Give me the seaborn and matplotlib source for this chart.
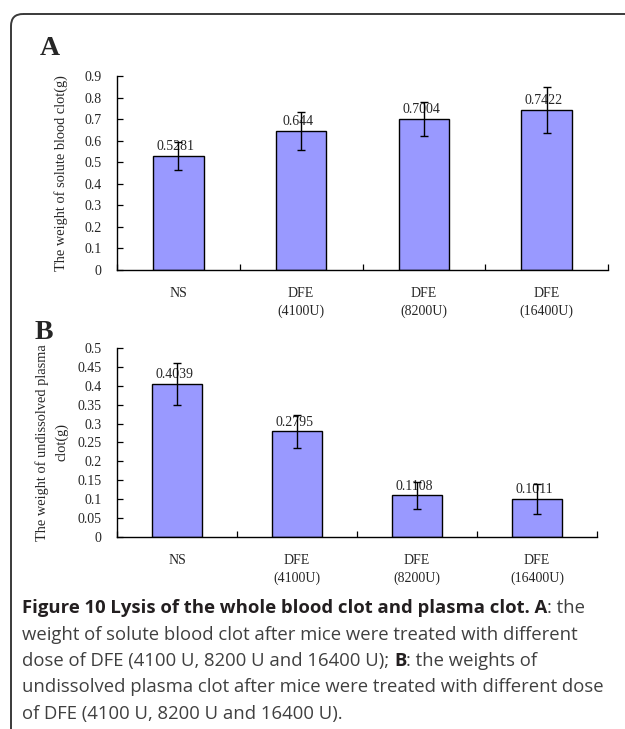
import matplotlib
matplotlib.use('Agg')
import matplotlib.pyplot as plt
import seaborn as sns
import pandas as pd
from matplotlib.patches import FancyBboxPatch

# data
groups = ['NS', 'DFE\n(4100U)', 'DFE\n(8200U)', 'DFE\n(16400U)']
solute_clot = [0.5281, 0.644, 0.7004, 0.7422]
solute_sd = [0.065, 0.087, 0.079, 0.108]
plasma_clot = [0.4039, 0.2795, 0.1108, 0.1011]
plasma_sd = [0.056, 0.044, 0.036, 0.040]
yticks_a = [0, 0.1, 0.2, 0.3, 0.4, 0.5, 0.6, 0.7, 0.8, 0.9]
yticks_b = [0, 0.05, 0.1, 0.15, 0.2, 0.25, 0.3, 0.35, 0.4, 0.45, 0.5]

sns.set_style('white')
plt.rcParams['font.family'] = ['Liberation Serif', 'DejaVu Serif']

W, H = 625, 729
fig = plt.figure(figsize=(W / 100, H / 100), dpi=100)

# background axes in pixel coordinates for frame / caption
bg = fig.add_axes([0, 0, 1, 1])
bg.set_xlim(0, W)
bg.set_ylim(H, 0)
bg.axis('off')
bg.add_patch(FancyBboxPatch((11, 14), 700, 760, boxstyle='round,pad=0,rounding_size=12',
                            fc='none', ec='#3a3a3a', lw=1.4))

bar_color = '#9999FF'


def draw_panel(rect, values, errs, ticks, ylabel, label_x):
    ax = fig.add_axes(rect)
    df = pd.DataFrame({'group': groups, 'value': values})
    sns.barplot(data=df, x='group', y='value', color=bar_color, saturation=1,
                width=0.41, edgecolor='black', linewidth=1.0, ax=ax, zorder=2)
    ax.errorbar(range(len(values)), values, yerr=errs, fmt='none', ecolor='black',
                elinewidth=1.0, capsize=3, capthick=1.0, zorder=4)
    for i, v in enumerate(values):
        ax.annotate(f'{v:g}', (i, v), xytext=(-2, 2), textcoords='offset points',
                    ha='center', va='bottom', fontsize=10, zorder=3)
    ax.set_xlim(-0.5, len(values) - 0.5)
    ax.set_ylim(ticks[0], ticks[-1])
    ax.set_yticks(ticks)
    ax.set_yticklabels([f'{t:g}' for t in ticks])
    ax.set_xticks(range(len(values)))
    ax.set_xticklabels(groups, linespacing=1.45)
    ax.set_xticks([i - 0.5 for i in range(len(values) + 1)], minor=True)
    ax.tick_params(axis='x', which='major', length=0, pad=12, labelsize=10)
    ax.tick_params(axis='x', which='minor', direction='in', length=4, width=0.9,
                   bottom=True, color='black')
    ax.tick_params(axis='y', direction='in', length=4, width=0.9, left=True,
                   pad=11, labelsize=10, color='black')
    ax.set_xlabel('')
    ax.set_ylabel(ylabel, fontsize=10.4, multialignment='center', linespacing=1.5)
    ax.yaxis.set_label_coords(label_x, 0.5)
    sns.despine(ax=ax)
    for s in ['left', 'bottom']:
        ax.spines[s].set_color('black')
        ax.spines[s].set_linewidth(1.0)
    return ax


draw_panel([117 / W, 1 - 270 / H, 491 / W, 194 / H], solute_clot, solute_sd, yticks_a,
           'The weight of solute blood clot(g)', -0.100)
draw_panel([117 / W, 1 - 537.3 / H, 480 / W, 189.6 / H], plasma_clot, plasma_sd, yticks_b,
           'The weight of undissolved plasma\nclot(g)', -0.102)

bg.text(40, 55, 'A', fontsize=20, fontweight='bold', ha='left', va='baseline')
bg.text(35, 339, 'B', fontsize=20, fontweight='bold', ha='left', va='baseline')

# caption, pieces with mixed weights
cap_font = ['Open Sans', 'DejaVu Sans']
cap_size = 13.3
lines = [
    [('Figure 10 Lysis of the whole blood clot and plasma clot. A', 'bold'), (': the', 'normal')],
    [('weight of solute blood clot after mice were treated with different', 'normal')],
    [('dose of DFE (4100 U, 8200 U and 16400 U); ', 'normal'), ('B', 'bold'),
     (': the weights of', 'normal')],
    [('undissolved plasma clot after mice were treated with different dose', 'normal')],
    [('of DFE (4100 U, 8200 U and 16400 U).', 'normal')],
]
baselines = [613, 639.5, 666, 692.5, 719]
renderer = fig.canvas.get_renderer()
inv = bg.transData.inverted()
for parts, yb in zip(lines, baselines):
    x = 22
    for txt, wt in parts:
        t = bg.text(x, yb, txt, family=cap_font, fontsize=cap_size, fontweight=wt,
                    color='#231f20' if wt == 'bold' else '#404040', ha='left', va='baseline')
        bb = t.get_window_extent(renderer)
        x = inv.transform((bb.x1, bb.y0))[0]

fig.savefig('out.png', dpi=100)
